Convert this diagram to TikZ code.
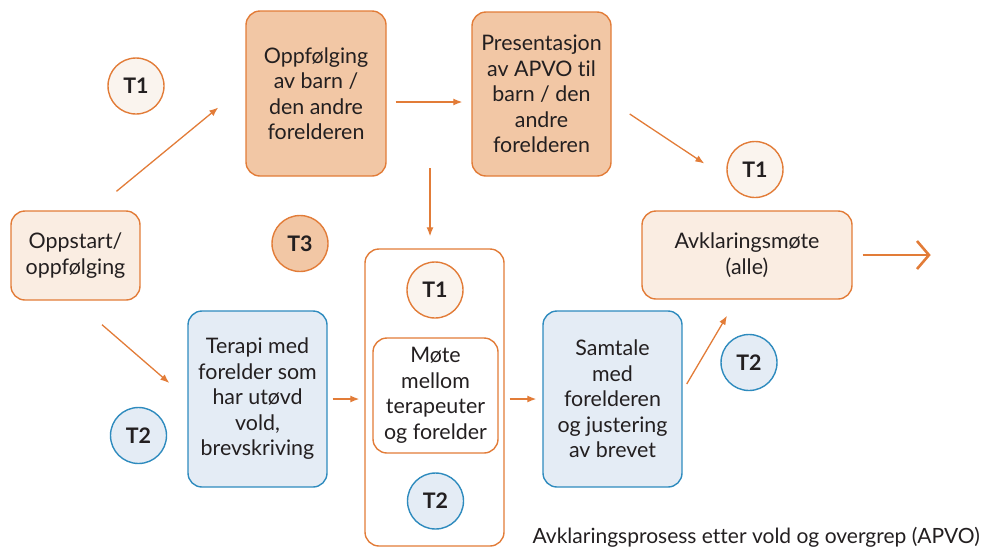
\documentclass[tikz,border=0pt]{standalone}
\usepackage{fontspec}
\setmainfont{Lato}[Ligatures=NoCommon]
\usepackage{xcolor}
\usepackage{tikz}
\usetikzlibrary{calc,arrows.meta}

\definecolor{apvoOrange}{RGB}{226,124,56}
\definecolor{apvoPeach}{RGB}{242,199,165}
\definecolor{apvoCream}{RGB}{250,237,226}
\definecolor{tagCream}{RGB}{250,244,238}
\definecolor{apvoBlue}{RGB}{46,139,190}
\definecolor{apvoBlueFill}{RGB}{228,236,245}
\definecolor{apvoText}{RGB}{35,31,32}

\begin{document}
\begin{tikzpicture}[x=1pt, y=-1pt,
    font=\fontsize{21.4}{25.5}\selectfont, text=apvoText,
    >={Latex[length=9pt,width=7pt]},
    box/.style={draw, line width=1.4pt, rounded corners=14pt, align=center,
      inner sep=2pt},
    darkBox/.style={box, draw=apvoOrange, fill=apvoPeach},
    lightBox/.style={box, draw=apvoOrange, fill=apvoCream},
    blueBox/.style={box, draw=apvoBlue, fill=apvoBlueFill},
    tag/.style={circle, line width=1.4pt, minimum size=56pt, inner sep=0pt,
      font=\fontsize{21.4}{25}\selectfont\bfseries},
    tagLight/.style={tag, draw=apvoOrange, fill=tagCream},
    tagDark/.style={tag, draw=apvoOrange, fill=apvoPeach},
    tagBlue/.style={tag, draw=apvoBlue, fill=apvoBlueFill},
    flowArrow/.style={->, draw=apvoOrange, line width=1.3pt}]
  \useasboundingbox (0,0) rectangle (984,547);

  \node[lightBox, minimum width=129pt, minimum height=89pt] (oppstart) at (75.5,255.5)
    {Oppstart/\\oppfølging};
  \node[darkBox, minimum width=140pt, minimum height=165pt] (oppf) at (316,93.5)
    {Oppfølging\\av barn /\\den andre\\forelderen};
  \node[darkBox, minimum width=139pt, minimum height=164pt] (pres) at (541.5,94)
    {Presentasjon\\av APVO til\\barn / den\\andre\\forelderen};
  \node[lightBox, minimum width=210pt, minimum height=88pt] (avkl) at (747,255)
    {Avklaringsmøte\\(alle)};
  \node[blueBox, minimum width=139pt, minimum height=176pt] (terapi) at (257.5,399)
    {Terapi med\\forelder som\\har utøvd\\vold,\\brevskriving};
  \node[box, draw=apvoOrange, fill=white, minimum width=139pt, minimum height=297pt]
    (tall) at (434.5,397.5) {};
  \node[box, draw=apvoOrange, fill=white, minimum width=125pt, minimum height=115pt]
    (mote) at (435.5,395.5) {Møte\\mellom\\terapeuter\\og forelder};
  \node[blueBox, minimum width=139pt, minimum height=176pt] (samtale) at (612.5,399)
    {Samtale\\med\\forelderen\\og justering\\av brevet};

  \node[tagLight] (t1a) at (136,86) {T1};
  \node[tagDark] (t3) at (300,243.5) {T3};
  \node[tagLight] (t1b) at (755,169.5) {T1};
  \node[tagLight] (t1c) at (435,290) {T1};
  \node[tagBlue] (t2a) at (138.5,435.5) {T2};
  \node[tagBlue] (t2b) at (435.5,501) {T2};
  \node[tagBlue] (t2c) at (749,362.5) {T2};

  \node[anchor=base east, inner sep=0pt, font=\fontsize{21}{25}\selectfont]
    (caption) at (980,543) {Avklaringsprosess etter vold og overgrep (APVO)};

  \coordinate (split) at ($(tall.north)+(-4.5,-80)$);

  \draw[flowArrow] ($(oppstart.north)+(41,-19)$) -- ($(oppf.west)+(-27,14)$);
  \draw[flowArrow] ($(oppf.east)+(9,8.5)$) -- ($(pres.west)+(-9,8)$);
  \draw[flowArrow] (split) -- ($(tall.north)+(-4.5,-12)$);
  \draw[flowArrow] ($(pres.east)+(18,20)$) -- ($(t1b.west)+(-22,-6)$);
  \draw[flowArrow] ($(oppstart.south)+(26.5,24)$) -- ($(terapi.west)+(-18,-16)$);
  \draw[flowArrow] ($(terapi.east)+(5,0)$) -- ($(tall.west)+(-5,1.5)$);
  \draw[flowArrow] ($(tall.east)+(5,1.5)$) -- ($(samtale.west)+(-6,0)$);
  \draw[flowArrow] ($(samtale.east)+(4,-15)$) -- ($(avkl.south)+(-20,16)$);
  \draw[draw=apvoOrange, line width=2.6pt,
    -{Straight Barb[length=12pt,width=28pt,line width=2.6pt]}]
    ($(avkl.east)+(10,0)$) -- ($(avkl.east)+(78,0)$);
\end{tikzpicture}
\end{document}
